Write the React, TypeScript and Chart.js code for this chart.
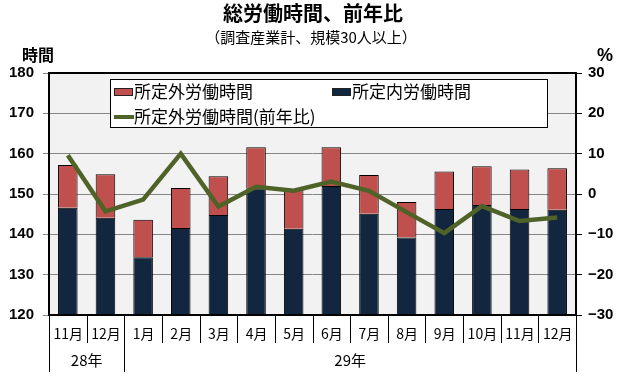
import React, { useEffect, useRef } from 'react';
import { Chart, registerables } from 'chart.js';

Chart.register(...registerables);

const TITLE = '総労働時間、前年比';
const SUBTITLE = '（調査産業計、規模30人以上）';
const LEFT_AXIS_TITLE = '時間';
const RIGHT_AXIS_TITLE = '%';

const categories = ['11月', '12月', '1月', '2月', '3月', '4月', '5月', '6月', '7月', '8月', '9月', '10月', '11月', '12月'];
const yearLabels = ['28年', '29年'];
const yearSpans = [2, 12];

const scheduledHours = [146.6, 144.1, 134.3, 141.6, 144.8, 151.4, 141.4, 152.0, 145.1, 139.2, 146.3, 147.3, 146.3, 146.1];
const overtimeHours = [10.6, 10.8, 9.3, 9.9, 9.6, 10.2, 9.6, 9.6, 9.6, 8.8, 9.3, 9.6, 9.8, 10.3];
const overtimeYoY = [9.6, -4.3, -1.4, 10.0, -3.1, 1.8, 0.8, 3.1, 0.8, -4.5, -9.7, -3.0, -6.7, -5.8];

const LEFT_MIN = 120;
const LEFT_MAX = 180;
const RIGHT_MIN = -30;
const RIGHT_MAX = 30;
const STEP = 10;

const RED = '#c0504d';
const NAVY = '#13263f';
const GREEN = '#4f6228';
const PLOT_BG = '#f2f2f2';
const GRID = '#868686';

const CJK = '"Noto Sans CJK JP", "Noto Sans", sans-serif';
const NUM = '"Liberation Sans", Arial, sans-serif';

const decorPlugin = {
  id: 'decor',
  beforeDraw(chart: any) {
    const { ctx, chartArea: a } = chart;
    ctx.save();
    ctx.fillStyle = '#ffffff';
    ctx.fillRect(0, 0, chart.width, chart.height);
    ctx.fillStyle = PLOT_BG;
    ctx.fillRect(a.left, a.top, a.right - a.left, a.bottom - a.top);
    ctx.restore();
  },
  afterDatasetsDraw(chart: any) {
    const { ctx, chartArea: a } = chart;
    ctx.save();
    // frame
    ctx.strokeStyle = '#000';
    ctx.lineWidth = 2;
    ctx.strokeRect(a.left, a.top, a.right - a.left, a.bottom - a.top);

    // legend
    const lx = 110.5, ly = 79.5, lw = 437, lh = 48;
    ctx.fillStyle = '#fff';
    ctx.fillRect(lx, ly, lw, lh);
    ctx.lineWidth = 1;
    ctx.strokeStyle = '#000';
    ctx.strokeRect(lx, ly, lw, lh);

    const ds = chart.data.datasets;
    const entries = [
      { d: ds[1], x: 114, y: 92 },
      { d: ds[0], x: 332, y: 92 },
      { d: ds[2], x: 114, y: 117 },
    ];
    ctx.font = `17px ${CJK}`;
    ctx.textBaseline = 'middle';
    ctx.textAlign = 'left';
    entries.forEach((e) => {
      if (e.d.type === 'line') {
        ctx.strokeStyle = e.d.borderColor;
        ctx.lineWidth = 4;
        ctx.beginPath();
        ctx.moveTo(e.x, e.y);
        ctx.lineTo(e.x + 20, e.y);
        ctx.stroke();
      } else {
        ctx.fillStyle = e.d.backgroundColor;
        ctx.fillRect(e.x, e.y - 4, 19, 8);
        ctx.strokeStyle = '#222';
        ctx.lineWidth = 1;
        ctx.strokeRect(e.x + 0.5, e.y - 3.5, 18, 7);
      }
      ctx.fillStyle = '#000';
      ctx.fillText(e.d.label, e.x + 20, e.y);
    });
    ctx.restore();
  },
  afterDraw(chart: any) {
    const { ctx, chartArea: a } = chart;
    const x = chart.scales.x;
    ctx.save();
    ctx.fillStyle = '#000';
    ctx.textAlign = 'center';
    ctx.textBaseline = 'middle';

    // titles
    ctx.font = `bold 20px ${CJK}`;
    ctx.fillText(TITLE, 313, 13);
    ctx.font = `15px ${CJK}`;
    ctx.fillText(SUBTITLE, 311, 37);
    ctx.font = `bold 16px ${CJK}`;
    ctx.fillText(LEFT_AXIS_TITLE, 38, 55);
    ctx.font = `bold 18px ${NUM}`;
    ctx.fillText(RIGHT_AXIS_TITLE, 605, 56);

    // month labels
    const n = categories.length;
    const half = (x.getPixelForValue(1) - x.getPixelForValue(0)) / 2;
    ctx.font = `14px ${CJK}`;
    categories.forEach((c, i) => {
      ctx.fillText(c, x.getPixelForValue(i) + 0.5, 334);
    });

    // separators
    const yearBounds = [0];
    yearSpans.forEach((s) => yearBounds.push(yearBounds[yearBounds.length - 1] + s));
    ctx.strokeStyle = '#000';
    ctx.lineWidth = 1;
    for (let k = 0; k <= n; k++) {
      const bx = Math.round(k === n ? x.getPixelForValue(n - 1) + half : x.getPixelForValue(k) - half) + 0.5;
      const long = yearBounds.includes(k);
      ctx.beginPath();
      ctx.moveTo(bx, a.bottom);
      ctx.lineTo(bx, long ? 372 : 343);
      ctx.stroke();
    }

    // year labels
    ctx.font = `15px ${CJK}`;
    yearLabels.forEach((lab, j) => {
      const from = yearBounds[j];
      const to = yearBounds[j + 1] - 1;
      const cx = (x.getPixelForValue(from) + x.getPixelForValue(to)) / 2;
      ctx.fillText(lab, cx, 360);
    });
    ctx.restore();
  },
};

export default function App() {
  const ref = useRef<HTMLCanvasElement | null>(null);

  useEffect(() => {
    if (!ref.current) return;
    const chart = new Chart(ref.current, {
      type: 'bar',
      data: {
        labels: categories,
        datasets: [
          {
            type: 'bar',
            label: '所定内労働時間',
            data: scheduledHours,
            backgroundColor: NAVY,
            borderColor: '#000',
            borderWidth: 1,
            yAxisID: 'y',
            order: 1,
            clip: 0,
            categoryPercentage: 1,
            barPercentage: 0.52,
          } as any,
          {
            type: 'bar',
            label: '所定外労働時間',
            data: overtimeHours,
            backgroundColor: RED,
            borderColor: '#000',
            borderWidth: 1,
            yAxisID: 'y',
            order: 1,
            clip: 0,
            categoryPercentage: 1,
            barPercentage: 0.52,
          } as any,
          {
            type: 'line',
            label: '所定外労働時間(前年比)',
            data: overtimeYoY,
            borderColor: GREEN,
            backgroundColor: GREEN,
            borderWidth: 4.5,
            pointRadius: 0,
            tension: 0,
            yAxisID: 'y1',
            order: 0,
          } as any,
        ],
      },
      options: {
        animation: false,
        responsive: false,
        devicePixelRatio: 1,
        layout: { padding: { top: 73, left: 0, right: 0, bottom: 0 } },
        plugins: {
          legend: { display: false },
          tooltip: { enabled: false },
          title: { display: false },
        },
        scales: {
          x: {
            stacked: true,
            ticks: { display: false },
            grid: { display: false },
            border: { display: false },
            afterFit: (s: any) => { s.height = 71; },
          },
          y: {
            position: 'left',
            stacked: true,
            min: LEFT_MIN,
            max: LEFT_MAX,
            ticks: {
              stepSize: STEP,
              color: '#000',
              padding: 9,
              font: { family: NUM, size: 15, weight: 'bold' },
            },
            grid: { color: GRID, lineWidth: 1, tickLength: 6 },
            border: { display: false },
            afterFit: (s: any) => { s.width = 49; },
          },
          y1: {
            position: 'right',
            min: RIGHT_MIN,
            max: RIGHT_MAX,
            ticks: {
              stepSize: STEP,
              color: '#000',
              padding: 6,
              font: { family: NUM, size: 15, weight: 'bold' },
              callback: (v: any) => (Number(v) < 0 ? '\u2212' + Math.abs(Number(v)) : String(v)),
            },
            grid: { drawOnChartArea: false, color: '#000', tickLength: 6 },
            border: { display: false },
            afterFit: (s: any) => { s.width = 55; },
          },
        },
      } as any,
      plugins: [decorPlugin],
    });
    return () => chart.destroy();
  }, []);

  return (
    <div style={{ position: 'fixed', left: 0, top: 0, width: 631, height: 386, background: '#fff' }}>
      <canvas ref={ref} width={631} height={386} style={{ display: 'block' }} />
    </div>
  );
}
